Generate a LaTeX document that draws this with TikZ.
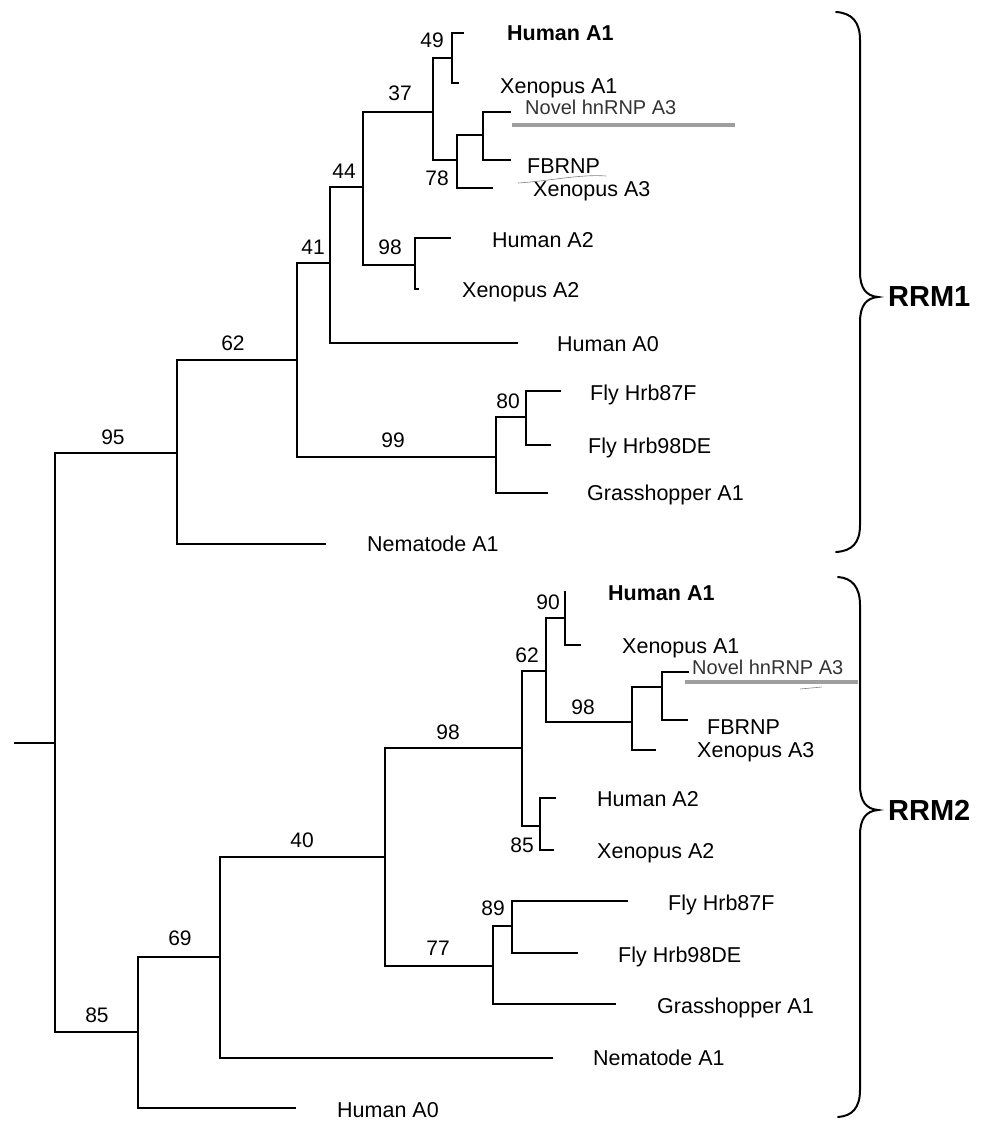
\documentclass[tikz,border=0pt]{standalone}
\usepackage{fontspec}
\setmainfont{Liberation Sans}
\newcommand\labf{\fontsize{21.5}{25}\selectfont}
\newcommand\smlabf{\fontsize{20}{24}\selectfont}
\newcommand\numf{\fontsize{21}{24}\selectfont}
\newcommand\rrmf{\fontsize{29}{34}\selectfont\bfseries}
\begin{document}
\begin{tikzpicture}[x=1pt,y=-1pt,
  edge/.style={line width=2.8pt, line cap=rect, line join=miter},
  leaf/.style={anchor=base west, yshift=-7.6pt, font=\labf, inner sep=0pt},
  smleaf/.style={anchor=base west, yshift=-7.1pt, font=\smlabf, inner sep=0pt, text=black!80},
  num/.style={font=\numf, inner sep=0pt},
  bracepath/.style={line width=2pt, line cap=round},
  hlmark/.style={line width=4pt, gray!75},
  scribble/.style={line width=0.6pt, gray}]
\useasboundingbox (0,0) rectangle (997,1122);
% ---------- coordinates ----------
\coordinate (S) at (15,743);
\coordinate (R) at (55,743);
% top tree (RRM1)
\coordinate (T95) at (177,453);
\coordinate (T62) at (297,360);
\coordinate (NemT) at (325,544);
\coordinate (T41) at (330,263);
\coordinate (T99) at (496,457);
\coordinate (T44) at (363,187);
\coordinate (HA0T) at (517,343);
\coordinate (T37) at (433,112);
\coordinate (T98a) at (415,265);
\coordinate (T49) at (452,58);
\coordinate (T78) at (457,160);
\coordinate (HA1T) at (463,33);
\coordinate (XA1T) at (458,83);
\coordinate (Tnov) at (483,135);
\coordinate (XA3T) at (492,188);
\coordinate (NovT) at (510,112);
\coordinate (FBT) at (510,160);
\coordinate (HA2T) at (450,238);
\coordinate (XA2T) at (418,289);
\coordinate (T80) at (526,417);
\coordinate (GrT) at (547,493);
\coordinate (F87T) at (560,391);
\coordinate (F98T) at (550,445);
% bottom tree (RRM2)
\coordinate (B85) at (138,1032);
\coordinate (B69) at (220,957);
\coordinate (HA0B) at (295,1108);
\coordinate (B40) at (385,857);
\coordinate (NemB) at (552,1058);
\coordinate (B98) at (522,748);
\coordinate (B77) at (493,966);
\coordinate (B62) at (546,671);
\coordinate (B85b) at (540,826);
\coordinate (B90) at (565,618);
\coordinate (B98c) at (632,722);
\coordinate (HA1B) at (565,592);
\coordinate (XA1B) at (580,645);
\coordinate (Bnov) at (662,687);
\coordinate (XA3B) at (655,750);
\coordinate (NovB) at (688,672);
\coordinate (FBB) at (687,720);
\coordinate (HA2B) at (555,798);
\coordinate (XA2B) at (553,850);
\coordinate (B89) at (512,926);
\coordinate (GrB) at (615,1004);
\coordinate (F87B) at (627,901);
\coordinate (F98B) at (577,953);
% ---------- branches ----------
\draw[edge] (S) -- (R);
\draw[edge] (R) |- (T95);
\draw[edge] (R) |- (B85);
% top
\draw[edge] (T95) |- (T62);
\draw[edge] (T95) |- (NemT);
\draw[edge] (T62) |- (T41);
\draw[edge] (T62) |- (T99);
\draw[edge] (T41) |- (T44);
\draw[edge] (T41) |- (HA0T);
\draw[edge] (T44) |- (T37);
\draw[edge] (T44) |- (T98a);
\draw[edge] (T37) |- (T49);
\draw[edge] (T37) |- (T78);
\draw[edge] (T49) |- (HA1T);
\draw[edge] (T49) |- (XA1T);
\draw[edge] (T78) |- (Tnov);
\draw[edge] (T78) |- (XA3T);
\draw[edge] (Tnov) |- (NovT);
\draw[edge] (Tnov) |- (FBT);
\draw[edge] (T98a) |- (HA2T);
\draw[edge] (T98a) |- (XA2T);
\draw[edge] (T99) |- (T80);
\draw[edge] (T99) |- (GrT);
\draw[edge] (T80) |- (F87T);
\draw[edge] (T80) |- (F98T);
% bottom
\draw[edge] (B85) |- (B69);
\draw[edge] (B85) |- (HA0B);
\draw[edge] (B69) |- (B40);
\draw[edge] (B69) |- (NemB);
\draw[edge] (B40) |- (B98);
\draw[edge] (B40) |- (B77);
\draw[edge] (B98) |- (B62);
\draw[edge] (B98) |- (B85b);
\draw[edge] (B62) |- (B90);
\draw[edge] (B62) |- (B98c);
\draw[edge] (B90) -- (HA1B);
\draw[edge] (B90) |- (XA1B);
\draw[edge] (B98c) |- (Bnov);
\draw[edge] (B98c) |- (XA3B);
\draw[edge] (Bnov) |- (NovB);
\draw[edge] (Bnov) |- (FBB);
\draw[edge] (B85b) |- (HA2B);
\draw[edge] (B85b) |- (XA2B);
\draw[edge] (B77) |- (B89);
\draw[edge] (B77) |- (GrB);
\draw[edge] (B89) |- (F87B);
\draw[edge] (B89) |- (F98B);
% ---------- leaf labels (top) ----------
\node[leaf, font=\labf\bfseries] (lHA1T) at (507,33) {Human A1};
\node[leaf] (lXA1T) at (500,86) {Xenopus A1};
\node[smleaf] (lNovT) at (525,107) {Novel hnRNP A3};
\node[leaf] (lFBT) at (527,166) {FBRNP};
\node[leaf] (lXA3T) at (533,189) {Xenopus A3};
\node[leaf] (lHA2T) at (492,240) {Human A2};
\node[leaf] (lXA2T) at (462,290) {Xenopus A2};
\node[leaf] (lHA0T) at (557,344) {Human A0};
\node[leaf] (lF87T) at (590,393) {Fly Hrb87F};
\node[leaf] (lF98T) at (588,446) {Fly Hrb98DE};
\node[leaf] (lGrT) at (587,493) {Grasshopper A1};
\node[leaf] (lNemT) at (367,544) {Nematode A1};
% ---------- leaf labels (bottom) ----------
\node[leaf, font=\labf\bfseries] (lHA1B) at (608,593) {Human A1};
\node[leaf] (lXA1B) at (622,646) {Xenopus A1};
\node[smleaf] (lNovB) at (692,667) {Novel hnRNP A3};
\node[leaf] (lFBB) at (707,727) {FBRNP};
\node[leaf] (lXA3B) at (697,750) {Xenopus A3};
\node[leaf] (lHA2B) at (597,799) {Human A2};
\node[leaf] (lXA2B) at (597,851) {Xenopus A2};
\node[leaf] (lF87B) at (668,903) {Fly Hrb87F};
\node[leaf] (lF98B) at (618,955) {Fly Hrb98DE};
\node[leaf] (lGrB) at (657,1006) {Grasshopper A1};
\node[leaf] (lNemB) at (593,1058) {Nematode A1};
\node[leaf] (lHA0B) at (337,1110) {Human A0};
% ---------- bootstrap values (top) ----------
\node[num] (n95) at (113,437) {95};
\node[num] (n62) at (233,343) {62};
\node[num] (n41) at (313,247) {41};
\node[num] (n44) at (344,171) {44};
\node[num] (n37) at (400,93) {37};
\node[num] (n49) at (432,40) {49};
\node[num] (n78) at (437,178) {78};
\node[num] (n98a) at (390,247) {98};
\node[num] (n99) at (393,440) {99};
\node[num] (n80) at (508,401) {80};
% ---------- bootstrap values (bottom) ----------
\node[num] (m85) at (97,1015) {85};
\node[num] (m69) at (180,938) {69};
\node[num] (m40) at (302,840) {40};
\node[num] (m98) at (448,732) {98};
\node[num] (m77) at (438,948) {77};
\node[num] (m62) at (527,655) {62};
\node[num] (m98c) at (583,707) {98};
\node[num] (m90) at (548,602) {90};
\node[num] (m85b) at (522,845) {85};
\node[num] (m89) at (493,908) {89};
% ---------- hand marks ----------
\draw[hlmark] (512,125) -- (735,125);
\draw[hlmark] (685,682) -- (858,682);
\draw[scribble] (518,183) .. controls (550,181) and (580,174) .. (606,176);
\draw[scribble] (800,689) -- (822,687);
% ---------- braces ----------
\draw[bracepath] (836,12) .. controls (852,13) and (860,22) .. (860,40) -- (860,272)
  .. controls (860,288) and (866,296) .. (878,297)
  .. controls (866,298) and (860,306) .. (860,322) -- (860,525)
  .. controls (860,543) and (852,551) .. (836,552);
\draw[bracepath] (838,577) .. controls (852,578) and (860,587) .. (860,605) -- (860,785)
  .. controls (860,801) and (866,809) .. (878,810)
  .. controls (866,811) and (860,819) .. (860,835) -- (860,1090)
  .. controls (860,1108) and (852,1116) .. (838,1117);
\node[anchor=west, font=\rrmf, inner sep=0pt] (rrm1) at (888,297) {RRM1};
\node[anchor=west, font=\rrmf, inner sep=0pt] (rrm2) at (888,810) {RRM2};
\end{tikzpicture}
\end{document}
